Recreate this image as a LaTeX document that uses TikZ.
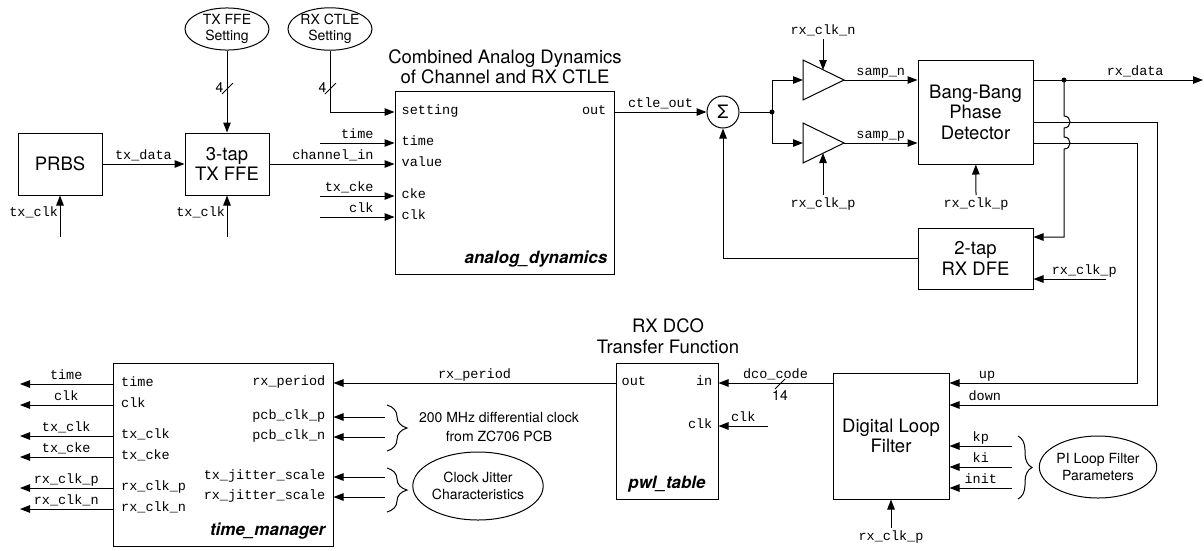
\documentclass[tikz,border=0pt]{standalone}
\usepackage{fontspec}
\setmainfont{TeX Gyre Heros}
\setmonofont{Liberation Mono}
\usetikzlibrary{arrows.meta,shapes.geometric,decorations.pathreplacing}

\newcommand{\blkfont}{\fontsize{18.5}{20.5}\selectfont}
\newcommand{\notefont}{\fontsize{14}{16.5}\selectfont}
\newcommand{\sigfont}{\ttfamily\fontsize{13.5}{15}\selectfont}
\newcommand{\modfont}{\bfseries\itshape\fontsize{17}{20}\selectfont}

\tikzset{
  wire/.style={line width=1pt},
  arr/.style={wire, -{Triangle[length=10pt,width=7.5pt]}},
  blk/.style={draw, line width=1pt, align=center, font=\blkfont, inner sep=0pt},
  ttl/.style={align=center, font=\blkfont, inner sep=0pt},
  oval/.style={draw, ellipse, line width=1pt, align=center, font=\notefont, inner sep=0pt},
  note/.style={align=center, font=\notefont, inner sep=0pt},
  sig/.style={font=\sigfont, inner sep=1.5pt, text height=8pt, text depth=2.5pt},
  modname/.style={font=\modfont, inner sep=0pt},
  brc/.style={wire, decorate, decoration={brace, amplitude=#1}},
}

\begin{document}
\begin{tikzpicture}[x=1pt, y=-1pt]
    \useasboundingbox (0,0) rectangle (1204,550);
    % Transmitter
    \node[blk, minimum width=84pt, minimum height=62pt] (prbs) at (60,164) {PRBS};
    \node[blk, minimum width=84pt, minimum height=62pt] (ffe) at (227,164) {3-tap\\TX FFE};
    \node[oval, minimum width=84pt, minimum height=38pt] (txset) at (227,29) {TX FFE\\Setting};
    \node[oval, minimum width=84pt, minimum height=38pt] (rxset) at (330,29) {RX CTLE\\Setting};
    \coordinate (prbs-clk) at (60,237);
    \coordinate (ffe-clk) at (227,237);
    \draw[arr] (prbs) -- node[sig, above]{tx\_data} (ffe);
    \draw[arr] (prbs-clk) -- node[sig, left, pos=0.57]{tx\_clk} (prbs);
    \draw[arr] (ffe-clk) -- node[sig, left, pos=0.57]{tx\_clk} (ffe);
    \draw[arr] (txset) -- (ffe);
    \draw[wire] (222,94) -- (233,83) node[note, pos=0, above left, xshift=2pt, yshift=1pt]{4};

    % Channel and RX CTLE
    \node[blk, minimum width=219pt, minimum height=183pt] (analog) at (504.5,182.5) {};
    \node[ttl] (antitle) at (505,67) {Combined Analog Dynamics\\of Channel and RX CTLE};
    \node[modname, anchor=south east] (anname) at ([xshift=-7pt,yshift=7pt]analog.south east) {analog\_dynamics};
    \node[sig, anchor=west] (an-set) at (400,112) {setting};
    \node[sig, anchor=west] (an-time) at (400,143) {time};
    \node[sig, anchor=west] (an-val) at (400,164) {value};
    \node[sig, anchor=west] (an-cke) at (400,196) {cke};
    \node[sig, anchor=west] (an-clk) at (400,217) {clk};
    \node[sig, anchor=east] (an-out) at (608,112) {out};
    \coordinate (an-lin) at (320,0);
    \draw[arr] (rxset.south) |- (an-set.west -| analog.west);
    \draw[wire] (325,94) -- (336,83) node[note, pos=0, above left, xshift=2pt, yshift=1pt]{4};
    \draw[arr] (an-time -| an-lin) -- (an-time.west -| analog.west) node[sig, above left, xshift=-19pt]{time};
    \draw[arr] (ffe) -- (an-val.west -| analog.west) node[sig, above left, xshift=-19pt]{channel\_in};
    \draw[arr] (an-cke -| an-lin) -- (an-cke.west -| analog.west) node[sig, above left, xshift=-19pt]{tx\_cke};
    \draw[arr] (an-clk -| an-lin) -- (an-clk.west -| analog.west) node[sig, above left, xshift=-19pt]{clk};

    % Summer and samplers
    \node[draw, circle, wire, minimum size=32pt, inner sep=0pt, font=\blkfont] (sum) at (723,112) {Σ};
    \coordinate (split) at (772,112);
    \coordinate (ampn-in) at (803,80);
    \coordinate (ampn-out) at (844,80);
    \coordinate (ampn-top) at (823,70);
    \coordinate (rxclkn-in) at (823,39);
    \coordinate (ampp-in) at (803,143);
    \coordinate (ampp-out) at (844,143);
    \coordinate (ampp-bot) at (823,153);
    \coordinate (rxclkp-in) at (823,195);
    \draw[wire] (803,60) -- (ampn-out) -- (803,100) -- cycle;
    \draw[wire] (803,123) -- (ampp-out) -- (803,163) -- cycle;
    \draw[arr] (an-out -| analog.east) -- node[sig, above]{ctle\_out} (sum);
    \draw[wire] (sum) -- (split);
    \fill (split) circle (2.5pt);
    \draw[arr] (split) |- (ampn-in);
    \draw[arr] (split) |- (ampp-in);
    \draw[arr] (rxclkn-in) node[sig, above]{rx\_clk\_n} -- (ampn-top);
    \draw[arr] (rxclkp-in) node[sig, below, yshift=-2pt]{rx\_clk\_p} -- (ampp-bot);

    % Phase detector and DFE
    \node[blk, minimum width=115pt, minimum height=104pt] (bb) at (975.5,112) {Bang-Bang\\Phase\\Detector};
    \node[blk, minimum width=115pt, minimum height=61pt] (dfe) at (975.5,258.5) {2-tap\\RX DFE};
    \coordinate (bb-clk) at (976,195);
    \coordinate (tap) at (1064,80);
    \coordinate (rxdata-out) at (1203,80);
    \coordinate (dfe-fb) at ([yshift=21.5pt]dfe.east);
    \coordinate (dfe-clk) at (1106,279);
    \draw[arr] (ampn-out) -- node[sig, above]{samp\_n} (ampn-out -| bb.west);
    \draw[arr] (ampp-out) -- node[sig, above]{samp\_p} (ampp-out -| bb.west);
    \draw[arr] (bb-clk) node[sig, below, yshift=-2pt]{rx\_clk\_p} -- (bb);
    \draw[arr] (tap -| bb.east) -- node[sig, above, pos=0.6]{rx\_data} (rxdata-out);
    \fill (tap) circle (2.5pt);
    \draw[arr] (tap) -- (1064,116) .. controls (1072,116) and (1072,128) .. (1064,128)
        -- (1064,137) .. controls (1072,137) and (1072,149) .. (1064,149) |- (dfe-fb);
    \draw[arr] (dfe-clk) -- node[sig, above, pos=0.3]{rx\_clk\_p} (dfe-clk -| dfe.east);
    \draw[arr] (dfe) -| (sum);

    % Digital loop filter
    \node[blk, minimum width=116pt, minimum height=126pt] (dlf) at (891,436) {Digital Loop\\Filter};
    \node[oval, minimum width=105pt, minimum height=62pt] (pi) at (1098,467) {PI Loop Filter\\Parameters};
    \coordinate (upturn) at (1137,383);
    \coordinate (dnturn) at (1157,405);
    \coordinate (dlf-rin) at (1012,0);
    \coordinate (dlf-clk) at (891,528);
    \draw[arr] ([yshift=-31pt]bb.east) -| (upturn) -- node[sig, above, pos=0.8]{up} (upturn -| dlf.east);
    \draw[arr] ([yshift=-10pt]bb.east) -| (dnturn) -- node[sig, above, pos=0.83]{down} (dnturn -| dlf.east);
    \draw[arr] (dlf-rin |- 0,446) coordinate (kp-in) -- node[sig, above]{kp} (kp-in -| dlf.east);
    \draw[arr] (dlf-rin |- 0,467) coordinate (ki-in) -- node[sig, above]{ki} (ki-in -| dlf.east);
    \draw[arr] (dlf-rin |- 0,488) coordinate (init-in) -- node[sig, above]{init} (init-in -| dlf.east);
    \draw[brc=14pt] (1018,436) -- (1018,499);
    \draw[arr] (dlf-clk) node[sig, below, yshift=-2pt]{rx\_clk\_p} -- (dlf);

    % RX DCO
    \node[blk, minimum width=102pt, minimum height=136pt] (pwl) at (667,431) {};
    \node[ttl] (pwltitle) at (668,336) {RX DCO\\Transfer Function};
    \node[modname, anchor=south] (pwlname) at ([yshift=7pt]pwl.south) {pwl\_table};
    \node[sig, anchor=west] (pw-out) at (620,383) {out};
    \node[sig, anchor=east] (pw-in) at (714,383) {in};
    \node[sig, anchor=east] (pw-clk) at (714,426) {clk};
    \coordinate (pwl-clk) at (768,426);
    \draw[arr] (pw-in -| dlf.west) -- node[sig, above]{dco\_code} (pw-in.east -| pwl.east);
    \draw[wire] (775,389) -- (785,379) node[note, pos=0.5, below, yshift=-6pt]{14};
    \draw[arr] (pwl-clk) -- node[sig, above]{clk} (pw-clk.east -| pwl.east);

    % Time manager
    \node[blk, minimum width=220pt, minimum height=183pt] (tm) at (223,454.5) {};
    \node[modname, anchor=south east] (tmname) at ([xshift=-8pt,yshift=7pt]tm.south east) {time\_manager};
    \node[sig, anchor=west] (tm-time) at (119.5,384) {time};
    \node[sig, anchor=west] (tm-clk) at (119.5,405) {clk};
    \node[sig, anchor=west] (tm-txclk) at (119.5,436) {tx\_clk};
    \node[sig, anchor=west] (tm-txcke) at (119.5,457) {tx\_cke};
    \node[sig, anchor=west] (tm-rxclkp) at (119.5,488) {rx\_clk\_p};
    \node[sig, anchor=west] (tm-rxclkn) at (119.5,509) {rx\_clk\_n};
    \node[sig, anchor=east] (tm-per) at (327,383) {rx\_period};
    \node[sig, anchor=east] (tm-pcbp) at (327,417) {pcb\_clk\_p};
    \node[sig, anchor=east] (tm-pcbn) at (327,437) {pcb\_clk\_n};
    \node[sig, anchor=east] (tm-txj) at (327,477) {tx\_jitter\_scale};
    \node[sig, anchor=east] (tm-rxj) at (327,497) {rx\_jitter\_scale};
    \coordinate (tm-lout) at (20,0);
    \coordinate (tm-rin) at (385,0);
    \draw[arr] (pw-out.west -| pwl.west) -- node[sig, above]{rx\_period} (tm-per.east -| tm.east);
    \draw[arr] (tm-time -| tm.west) -- node[sig, above]{time} (tm-time -| tm-lout);
    \draw[arr] (tm-clk -| tm.west) -- node[sig, above]{clk} (tm-clk -| tm-lout);
    \draw[arr] (tm-txclk -| tm.west) -- node[sig, above]{tx\_clk} (tm-txclk -| tm-lout);
    \draw[arr] (tm-txcke -| tm.west) -- node[sig, above]{tx\_cke} (tm-txcke -| tm-lout);
    \draw[arr] (tm-rxclkp -| tm.west) -- node[sig, above]{rx\_clk\_p} (tm-rxclkp -| tm-lout);
    \draw[arr] (tm-rxclkn -| tm.west) -- node[sig, above]{rx\_clk\_n} (tm-rxclkn -| tm-lout);
    \draw[arr] (tm-pcbp -| tm-rin) -- (tm-pcbp.east -| tm.east);
    \draw[arr] (tm-pcbn -| tm-rin) -- (tm-pcbn.east -| tm.east);
    \draw[arr] (tm-txj -| tm-rin) -- (tm-txj.east -| tm.east);
    \draw[arr] (tm-rxj -| tm-rin) -- (tm-rxj.east -| tm.east);
    % Clock notes
    \draw[brc=20pt] (387,405) -- (387,451);
    \draw[brc=20pt] (387,468) -- (387,512);
    \node[note] (pcbnote) at (499,427) {200 MHz differential clock\\[2pt]from ZC706 PCB};
    \node[oval, minimum width=120pt, minimum height=68pt] (jit) at (478,486) {Clock Jitter\\Characteristics};
\end{tikzpicture}
\end{document}
